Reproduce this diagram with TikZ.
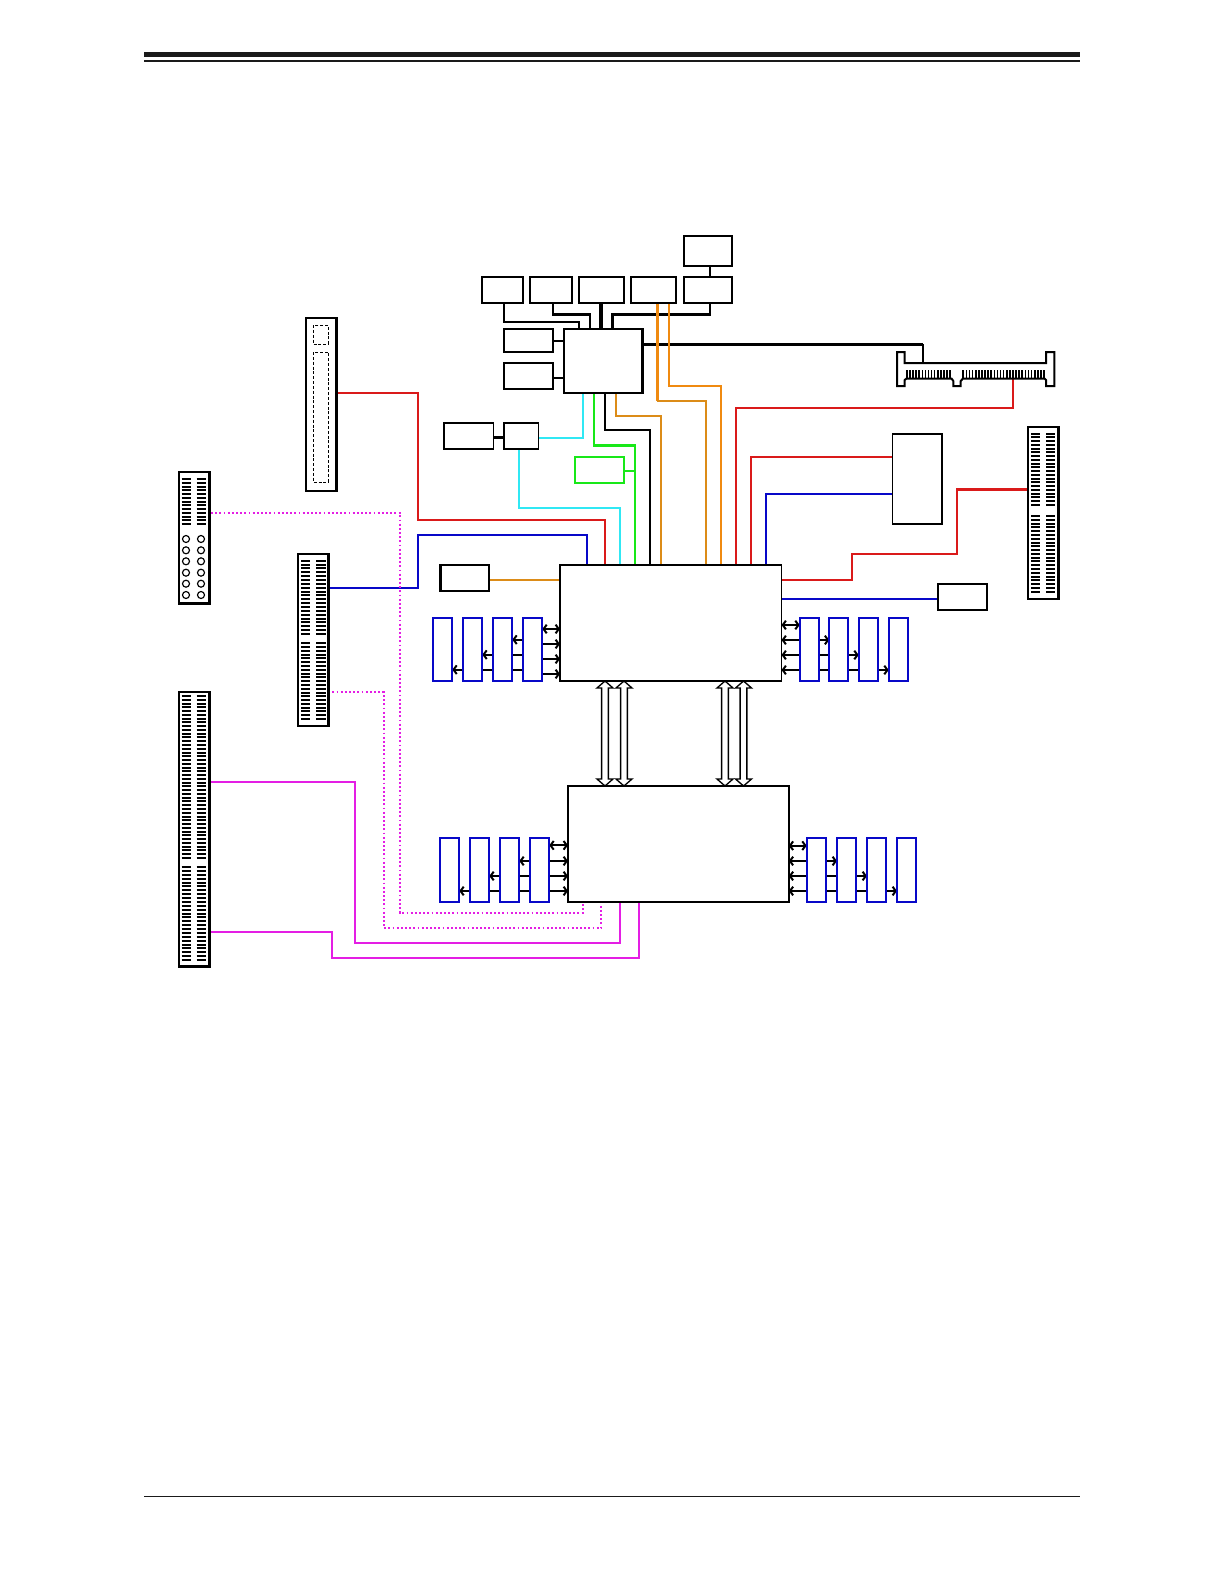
\documentclass[tikz,border=0pt]{standalone}
\usetikzlibrary{arrows.meta,backgrounds}
\definecolor{cred}{HTML}{DA1A1A}
\definecolor{cblue}{HTML}{0808C8}
\definecolor{ccyan}{HTML}{30E8F4}
\definecolor{cgreen}{HTML}{18E818}
\definecolor{corange}{HTML}{F08A10}
\definecolor{cdorange}{HTML}{DC8C18}
\definecolor{cmag}{HTML}{E41EE4}
\definecolor{rule}{HTML}{1A1A1A}
\tikzset{
  box/.style={draw=black,line width=1.15pt,fill=white,inner sep=0pt,outer sep=0pt},
  tbox/.style={box,line width=1.7pt},
  gbox/.style={box,draw=cgreen},
  mem/.style={box,draw=cblue,line width=1.3pt},
  wire/.style={line width=1.2pt,line join=miter},
  twire/.style={wire,line width=1.7pt},
  dotw/.style={line width=1.1pt,draw=cmag,dash pattern=on 1.1pt off 1.4pt},
  pin/.style={line width=1.2pt,black},
  dbl/.style={line width=1.2pt,{Straight Barb[length=1.9pt,width=5.2pt,line width=1.2pt]}-{Straight Barb[length=1.9pt,width=5.2pt,line width=1.2pt]}},
  dblr/.style={line width=1.2pt,-{Straight Barb[length=1.9pt,width=5.2pt,line width=1.2pt]}},
  hollow/.style={draw=black,line width=0.8pt,fill=white,line join=miter},
}
% \bx{style}{name}{x1}{y1}{x2}{y2}
\newcommand{\bx}[6]{\node[#1,anchor=north west,minimum width={(#5-#3)*0.6pt},minimum height={(#6-#4)*0.6pt}] (#2) at (#3,#4) {};}
% vertical stack of horizontal pins
\newcommand{\hpins}[4]{\pgfmathsetmacro{\nn}{int(round((#4-#3)/3.8))}%
  \foreach \ii in {0,...,\nn} {\draw[pin] (#1,{#3+(#4-#3)*\ii/\nn}) -- (#2,{#3+(#4-#3)*\ii/\nn});}}
\newcommand{\vpins}[2]{\pgfmathsetmacro{\nn}{int(round((#2-#1)/3.1))}%
  \foreach \ii in {0,...,\nn} {\draw[line width=1pt,black] ({#1+(#2-#1)*\ii/\nn},370) -- ({#1+(#2-#1)*\ii/\nn},378.5);}}
% hollow double arrow between chips
\newcommand{\harrow}[3]{\filldraw[hollow] (#1,#2) -- (#1+8,#2+7) -- (#1+3.4,#2+7) -- (#1+3.4,#3-7) -- (#1+8,#3-7) -- (#1,#3) -- (#1-8,#3-7) -- (#1-3.4,#3-7) -- (#1-3.4,#2+7) -- (#1-8,#2+7) -- cycle;}
\begin{document}
\begin{tikzpicture}[x=0.6pt,y=-0.6pt]
\useasboundingbox (0,0) rectangle (1224,1584);
% page rules
\coordinate (ruleL) at (144,54.7); \coordinate (ruleR) at (1080,54.7);
\draw[rule,line width=3.2pt] (ruleL) -- (ruleR);
\draw[rule,line width=1.2pt] (144,61) -- (1080,61);
\draw[rule,line width=1.1pt] (144,1496.5) -- (1080,1496.5);

% chips and small boxes
\bx{box}{topA}{684}{236}{732}{266}
\bx{box}{b1}{482}{277}{523}{303}
\bx{tbox}{b2}{530}{277}{572}{303}
\bx{box}{b3}{579}{277}{624}{303}
\bx{box}{b4}{631}{277}{676}{303}
\bx{box}{b5}{684}{277}{732}{303}
\bx{tbox}{s1}{504}{329}{553}{352}
\bx{box}{s2}{504}{363}{553}{389}
\bx{tbox}{sio}{564}{329}{642.7}{393}
\bx{box}{usbL}{444}{423}{493.5}{449}
\bx{box}{usbR}{504}{423}{538.5}{449}
\bx{gbox}{gr}{575}{457}{624.3}{483}
\bx{box}{cpuA}{560}{565}{781.5}{681}
\bx{box}{cpuB}{568}{786}{788.7}{902}
\bx{box}{rc}{892.5}{434}{942.3}{524}
\bx{box}{rb}{938}{584}{987}{610}
\bx{tbox}{ob}{440.5}{565}{489}{591}

% slots
\bx{tbox}{slot}{306}{318}{336.3}{491}
\draw[black,line width=0.6pt,dash pattern=on 1.8pt off 1.1pt] (313.3,325) rectangle (328.3,344);
\draw[black,line width=0.6pt,dash pattern=on 1.8pt off 1.1pt] (313.3,352) rectangle (328.3,482);
\bx{tbox}{conA}{179}{472}{209.3}{603.3}
\bx{tbox}{conB}{298}{554}{328.3}{726}
\bx{tbox}{conC}{179}{692}{209.3}{966.5}
\bx{tbox}{conD}{1028}{427}{1058.3}{599}
\hpins{181.7}{190.7}{479}{524}
\hpins{196.5}{205.7}{479}{524}
\foreach \yy in {539,550.3,561.3,572.7,583.7,595} {
  \draw[black,line width=0.7pt] (186,\yy) circle[radius=3.5];
  \draw[black,line width=0.7pt] (201,\yy) circle[radius=3.5];
}
\hpins{301.3}{310.3}{560.7}{634}
\hpins{316.3}{325.7}{560.7}{634}
\hpins{301.3}{310.3}{643.3}{719}
\hpins{316.3}{325.7}{643.3}{719}
\hpins{181.7}{190.5}{696}{858}
\hpins{196.7}{205.5}{696}{858}
\hpins{181.7}{190.5}{867}{960}
\hpins{196.7}{205.5}{867}{960}
\hpins{1031}{1040}{433.5}{505}
\hpins{1046}{1055}{433.5}{505}
\hpins{1031}{1040}{516}{591.7}
\hpins{1046}{1055}{516}{591.7}

% edge connector
\draw[black,line width=1.2pt,line join=miter,fill=white] (897,352) -- (904.7,352) -- (904.7,363) -- (1046,363) -- (1046,352) -- (1054.3,352) -- (1054.3,386) -- (1046,386) -- (1046,380) -- (1044.5,378.5) -- (963,378.5) -- (960.7,381) -- (960.7,386) -- (953.3,386) -- (953.3,381) -- (951.5,378.5) -- (906.5,378.5) -- (904.7,380) -- (904.7,386) -- (897,386) -- cycle;
\vpins{907}{950}
\vpins{963.3}{1044}
\coordinate (edgeT) at (923,363);
\coordinate (edgeB) at (1013.3,378.5);
\coordinate (dotA) at (211,512.7);

% memory modules
\foreach \nm/\xa/\xb in {a1/432.7/452.3,a2/462.7/482.3,a3/492.7/512.3,a4/522.7/542.3,
                         c1/799.7/819,c2/829.3/848.3,c3/858.7/878.3,c4/888.7/908.3} {
  \bx{mem}{\nm}{\xa}{617.7}{\xb}{680.7}
}
\foreach \nm/\xa/\xb in {e1/440/459.3,e2/470/489.3,e3/500/519.3,e4/530/549.3,
                         g1/806.7/826,g2/837/856.3,g3/867/886.3,g4/897/916.3} {
  \bx{mem}{\nm}{\xa}{838}{\xb}{902}
}

% hollow links between the two processors
\harrow{605}{681}{786}
\harrow{624}{681}{786}
\harrow{725}{681}{786}
\harrow{743.5}{681}{786}

\begin{pgfonlayer}{background}
% memory arrows
\draw[dbl] (a4.east |- 0,629) -- (cpuA.west |- 0,629);
\foreach \yy in {644,659,674} \draw[dblr] (a4.east |- 0,\yy) -- (cpuA.west |- 0,\yy);
\draw[dblr] (a4.west |- 0,639.7) -- (a3.east |- 0,639.7);
\draw[dblr] (a4.west |- 0,654.7) -- (a2.east |- 0,654.7);
\draw[dblr] (a4.west |- 0,669.7) -- (a1.east |- 0,669.7);
\draw[dbl] (cpuA.east |- 0,625) -- (c1.west |- 0,625);
\draw[dbl] (cpuA.east |- 0,640) -- (c2.west |- 0,640);
\draw[dbl] (cpuA.east |- 0,655) -- (c3.west |- 0,655);
\draw[dbl] (cpuA.east |- 0,670) -- (c4.west |- 0,670);
\draw[dbl] (e4.east |- 0,845.3) -- (cpuB.west |- 0,845.3);
\draw[dbl] (e3.east |- 0,861) -- (cpuB.west |- 0,861);
\draw[dbl] (e2.east |- 0,876) -- (cpuB.west |- 0,876);
\draw[dbl] (e1.east |- 0,891) -- (cpuB.west |- 0,891);
\draw[dbl] (cpuB.east |- 0,845.7) -- (g1.west |- 0,845.7);
\draw[dbl] (cpuB.east |- 0,861) -- (g2.west |- 0,861);
\draw[dbl] (cpuB.east |- 0,876) -- (g3.west |- 0,876);
\draw[dbl] (cpuB.east |- 0,891) -- (g4.west |- 0,891);

% black wires
\draw[wire] (710,0 |- topA.south) -- (710,0 |- b5.north);
\draw[wire] (504,0 |- b1.south) -- (504,321.7) -- (579,321.7) -- (579,0 |- sio.north);
\draw[twire] (553,0 |- b2.south) -- (553,314.3) -- (590,314.3) -- (590,0 |- sio.north);
\draw[line width=2.2pt] (601.3,0 |- b3.south) -- (601.3,0 |- sio.north);
\draw[twire] (710,0 |- b5.south) -- (710,314.3) -- (612.7,314.3) -- (612.7,0 |- sio.north);
\draw[wire] (s1.east |- 0,340.7) -- (sio.west |- 0,340.7);
\draw[wire] (s2.east |- 0,377.7) -- (sio.west |- 0,377.7);
\draw[twire] (usbL.east |- 0,437.7) -- (usbR.west |- 0,437.7);
\draw[twire] (sio.east |- 0,344.3) -- (923,344.3);
\draw[wire] (923,344.3) -- (edgeT);
\draw[wire,line width=1.4pt] (605,0 |- sio.south) -- (605,430.3) -- (650,430.3) -- (650,0 |- cpuA.north);
% orange
\draw[wire,corange,line width=1.6pt] (657.3,0 |- b4.south) -- (657.3,400.7);
\draw[wire,cdorange] (657.3,400.7) -- (706,400.7) -- (706,0 |- cpuA.north);
\draw[wire,corange] (669,0 |- b4.south) -- (669,385.7) -- (721,385.7) -- (721,0 |- cpuA.north);
\draw[wire,cdorange] (616,0 |- sio.south) -- (616,415.7) -- (660.7,415.7) -- (660.7,0 |- cpuA.north);
\draw[wire,cdorange] (ob.east |- 0,579.7) -- (cpuA.west |- 0,579.7);
% green, cyan
\draw[wire,cgreen,line width=1.5pt] (594,0 |- sio.south) -- (594,445.7) -- (635,445.7) -- (635,0 |- cpuA.north);
\draw[wire,cgreen] (gr.east |- 0,470.6) -- (635,470.6);
\draw[wire,ccyan] (583,0 |- sio.south) -- (583,437.7) -- (usbR.east |- 0,437.7);
\draw[wire,ccyan] (518.7,0 |- usbR.south) -- (518.7,508) -- (620,508) -- (620,0 |- cpuA.north);
% red
\draw[wire,cred] (edgeB) -- (1013.3,407.7) -- (736.3,407.7) -- (736.3,0 |- cpuA.north);
\draw[wire,cred] (rc.west |- 0,456.7) -- (751.4,456.7) -- (751.4,0 |- cpuA.north);
\draw[wire,cred] (cpuA.east |- 0,579.7) -- (852,579.7) -- (852,554) -- (957,554) -- (957,489.8);
\draw[line width=2pt,cred] (956.2,489.8) -- (conD.west |- 0,489.8);
\draw[wire,cred] (slot.east |- 0,392.9) -- (418,392.9) -- (418,520) -- (605,520) -- (605,0 |- cpuA.north);
% blue
\draw[wire,cblue] (rc.west |- 0,493.9) -- (765.5,493.9) -- (765.5,0 |- cpuA.north);
\draw[wire,cblue] (cpuA.east |- 0,599) -- (rb.west |- 0,599);
\draw[wire,cblue] (conB.east |- 0,587.8) -- (418,587.8) -- (418,535.3) -- (586.8,535.3) -- (586.8,0 |- cpuA.north);
% magenta
\draw[wire,cmag] (conC.east |- 0,781.7) -- (354.5,781.7) -- (354.5,942.7) -- (620,942.7) -- (620,0 |- cpuB.south);
\draw[wire,cmag] (conC.east |- 0,932) -- (332.3,932) -- (332.3,957.7) -- (639,957.7) -- (639,0 |- cpuB.south);
\draw[dotw] (dotA) -- (400,512.7) -- (400,913) -- (582.7,913) -- (582.7,0 |- cpuB.south);
\draw[dotw] (conB.east |- 0,692.3) -- (383.8,692.3) -- (383.8,928) -- (601.3,928) -- (601.3,0 |- cpuB.south);
\end{pgfonlayer}
\end{tikzpicture}
\end{document}
